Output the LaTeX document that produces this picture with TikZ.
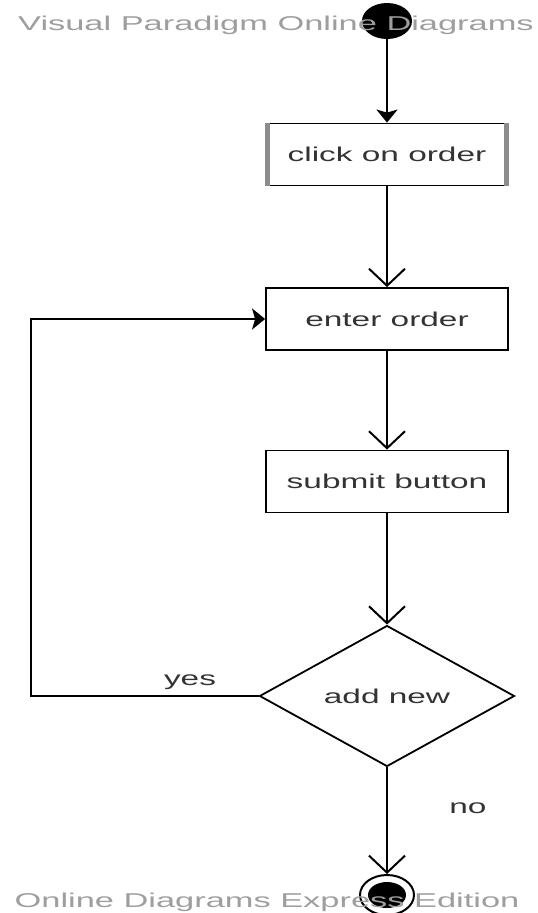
\documentclass[tikz,border=0pt]{standalone}
\usepackage{fontspec}
\setmainfont{Liberation Sans}
\usetikzlibrary{arrows.meta,shapes.geometric}
\tikzset{font={\fontsize{20pt}{24}\selectfont}}
\newcommand{\wide}[2][1.67]{\scalebox{#1}[1]{#2}}

\begin{document}
\begin{tikzpicture}[x=1pt,y=-1pt,
action/.style={draw,line width=1.8pt,minimum width=242pt,minimum height=62pt,inner sep=0pt,text=black!80},
flow/.style={line width=2.5pt,-{Straight Barb[length=17pt,width=36pt,line width=2pt]}},
solid flow/.style={line width=2.2pt,-{Stealth[length=13pt,width=21pt,inset=3pt]}},
watermark/.style={text=black!38,anchor=base}
]
\useasboundingbox (0,0) rectangle (538,913);

\node[ellipse,fill,minimum width=50pt,minimum height=36pt,inner sep=0pt] (start) at (387,21) {};

\node[action] (click) at (387,154.5) {\wide{click on order}};
\draw[black!45,line width=5pt] ([xshift=2.5pt]click.north west) -- ([xshift=2.5pt]click.south west);
\draw[black!45,line width=5pt] ([xshift=-2.5pt]click.north east) -- ([xshift=-2.5pt]click.south east);
\node[action] (enter) at (387,319) {\wide{enter order}};
\node[action] (submit) at (387,481.5) {\wide{submit button}};
\node[diamond,draw,line width=1.8pt,minimum width=255pt,minimum height=140pt,inner sep=0pt,text=black!80] (add) at (387,696) {\wide{add new}};

\node[ellipse,draw,line width=2pt,fill=white,minimum width=54pt,minimum height=40pt,inner sep=0pt] (stop) at (387,895) {};
\node[ellipse,fill,minimum width=38pt,minimum height=26pt,inner sep=0pt] (stopdot) at (stop) {};

%flows
\draw[solid flow] (start) -- (click);
\draw[flow] (click) -- (enter);
\draw[flow] (enter) -- (submit);
\draw[flow] (submit) -- (add);
\draw[flow] (add) -- (stop);
\coordinate (corner) at (31,696);
\draw[solid flow] (add.west) -- (corner) |- (enter.west);

\node[text=black!80] (yes) at (190,682) {\wide{yes}};
\node[text=black!80] (no) at (468,808) {\wide{no}};

%watermarks
\node[watermark] (top) at (276,30) {\wide[1.72]{Visual Paradigm Online Diagrams}};
\node[watermark] (bottom) at (267,907) {\wide[1.72]{Online Diagrams Express Edition}};
\end{tikzpicture}
\end{document}
